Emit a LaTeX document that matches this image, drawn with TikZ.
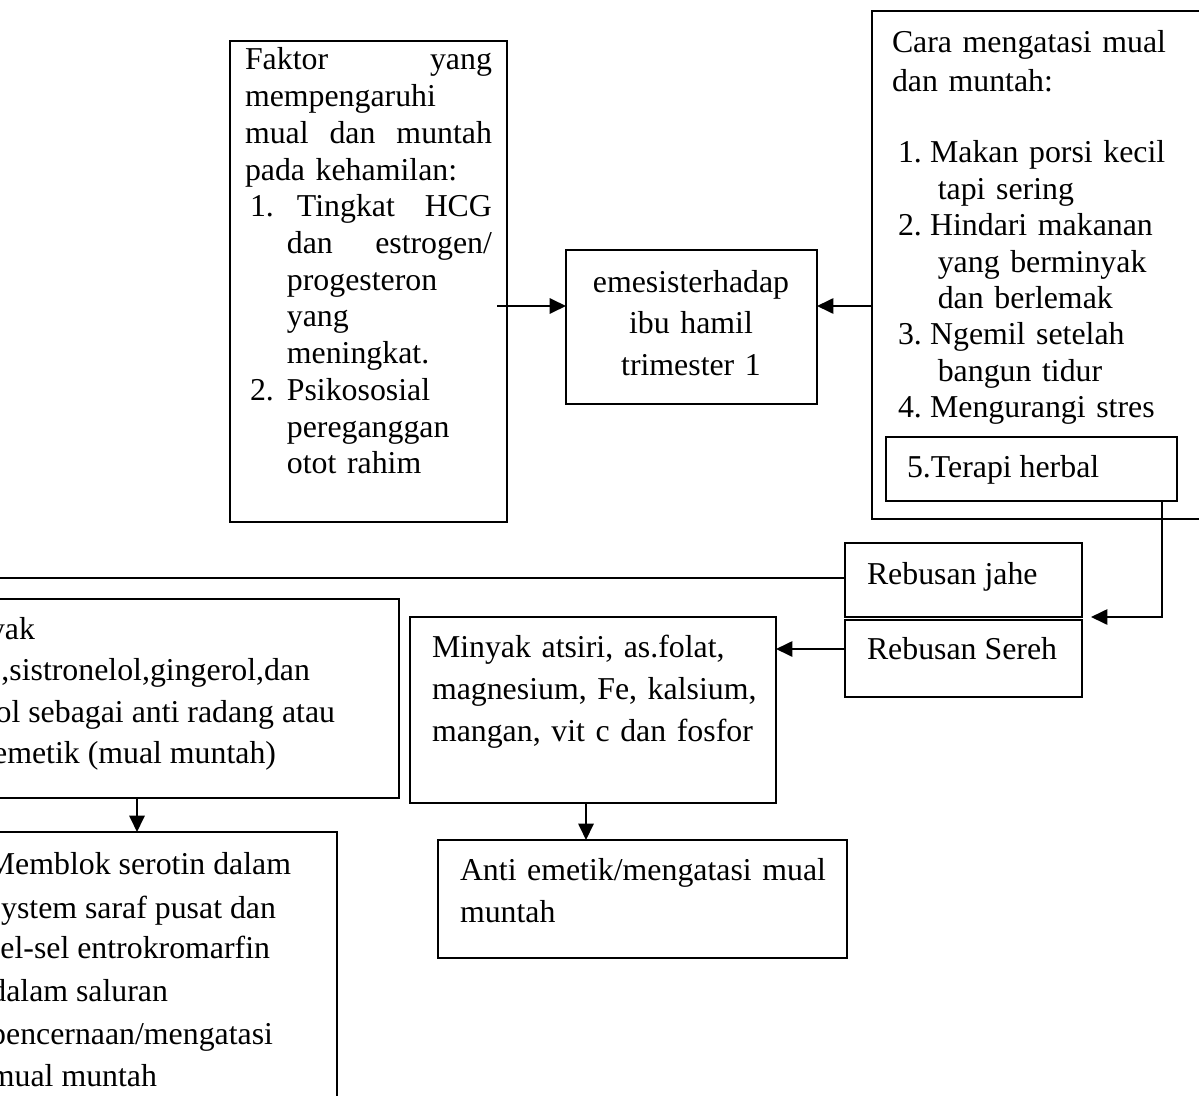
\documentclass[tikz,border=0pt]{standalone}
\usepackage{fontspec}
\setmainfont{Liberation Serif}
\usetikzlibrary{arrows.meta,fit}
\tikzset{
  box/.style={draw, line width=0.75pt, inner sep=0pt, outer sep=0pt, rectangle},
  arr/.style={line width=0.75pt, -{Triangle[length=6.2pt,width=5.8pt]}},
  conn/.style={line width=0.75pt},
  txt/.style={inner sep=0pt, outer sep=0pt, anchor=base west, align=left, text width=#1},
  txt/.default=150pt,
  frag/.style={inner sep=0pt, outer sep=0pt, anchor=base east, font=\fontsize{12pt}{15.6pt}\selectfont},
  line1/.style={inner sep=0pt, outer sep=0pt, anchor=base west, font=\fontsize{12pt}{14pt}\selectfont},
}
\begin{document}
\begin{tikzpicture}[x=0.377pt,y=-0.377pt]
\useasboundingbox (0,0) rectangle (1199,1095);
\clip (0,0) rectangle (1199,1095);

% boxes
\node[box, fit={(230,41) (507,522)}] (faktor) {};
\node[box, fit={(566,250) (817,404)}] (emesis) {};
\node[box, fit={(872,11) (1215,519)}] (cara) {};
\node[box, fit={(886,437) (1177,501)}] (herbal) {};
\node[box, fit={(845,543) (1082,617)}] (jahe) {};
\node[box, fit={(845,620) (1082,697)}] (sereh) {};
\node[box, fit={(-100,599) (399,798)}] (kand) {};
\node[box, fit={(410,617) (776,803)}] (minyak) {};
\node[box, fit={(-100,832) (337,1130)}] (memblok) {};
\node[box, fit={(438,840) (847,958)}] (anti) {};

% texts
\node[txt=93.1pt, font=\fontsize{12pt}{13.84pt}\selectfont] (faktorT) at (245,70)
 {Faktor\hfill yang\\
  mempengaruhi\\
  mual\hfill dan\hfill muntah\\
  pada kehamilan:\\
  \hspace*{1.9pt}\makebox[17.7pt][l]{1.}Tingkat\hfill HCG\\
  \hspace*{15.8pt}dan\hfill estrogen/\\
  \hspace*{15.8pt}progesteron\\
  \hspace*{15.8pt}yang\\
  \hspace*{15.8pt}meningkat.\\
  \hspace*{1.9pt}\makebox[13.9pt][l]{2.}Psikososial\\
  \hspace*{15.8pt}pereganggan\\
  \hspace*{15.8pt}otot rahim};

\node[txt=90pt, anchor=base, align=center, font=\fontsize{12pt}{15.65pt}\selectfont] (emesisT) at (691,292)
 {emesisterhadap\\ ibu hamil\\ trimester 1};

\node[txt, font=\fontsize{12pt}{14.7pt}\selectfont] (caraH) at (892,53)
 {Cara mengatasi mual\\ dan muntah:};
\node[txt, font=\fontsize{12pt}{13.7pt}\selectfont] (caraL) at (898,163)
 {\makebox[12.1pt][l]{1.}Makan porsi kecil\\
  \hspace*{15pt}tapi sering\\
  \makebox[12.1pt][l]{2.}Hindari makanan\\
  \hspace*{15pt}yang berminyak\\
  \hspace*{15pt}dan berlemak\\
  \makebox[12.1pt][l]{3.}Ngemil setelah\\
  \hspace*{15pt}bangun tidur\\
  \makebox[12.1pt][l]{4.}Mengurangi stres};

\node[line1] (herbalT) at (907,477) {5.Terapi herbal};
\node[line1] (jaheT) at (867,584) {Rebusan jahe};
\node[line1] (serehT) at (867,659) {Rebusan Sereh};

\node[frag] (k1) at (35,639) {yak};
\node[frag] (k2) at (310,680) {,sistronelol,gingerol,dan};
\node[frag] (k3) at (335,722) {ol sebagai anti radang atau};
\node[frag] (k4) at (276,763) {emetik (mual muntah)};

\node[txt, font=\fontsize{12pt}{16pt}\selectfont] (minyakT) at (432,657)
 {Minyak atsiri, as.folat,\\ magnesium, Fe, kalsium,\\ mangan, vit c dan fosfor};

\node[txt, font=\fontsize{12pt}{16.2pt}\selectfont] (antiT) at (460,880)
 {Anti emetik/mengatasi mual\\ muntah};

\node[frag] (m1) at (291,874) {Memblok serotin dalam};
\node[frag] (m2) at (276,918) {ystem saraf pusat dan};
\node[frag] (m3) at (270,958) {el-sel entrokromarfin};
\node[frag] (m4) at (168,1001) {dalam saluran};
\node[frag] (m5) at (273,1044) {pencernaan/mengatasi};
\node[frag] (m6) at (157,1086) {mual muntah};

% connectors
\coordinate (fe) at (497,306);
\draw[arr] (fe) -- (fe -| emesis.west);
\draw[arr] (cara.west |- fe) -- (fe -| emesis.east);
\coordinate (hb) at (1162,501);
\coordinate (hj) at (1091,617);
\draw[arr] (hb) |- (hj);
\coordinate (offl) at (-20,578);
\draw[conn] (jahe.west |- offl) -- (offl);
\coordinate (sm) at (0,649);
\draw[arr] (sereh.west |- sm) -- (minyak.east |- sm);
\coordinate (km) at (137,0);
\draw[arr] (kand.south -| km) -- (memblok.north -| km);
\coordinate (ma) at (586,0);
\draw[arr] (minyak.south -| ma) -- (anti.north -| ma);
\end{tikzpicture}
\end{document}
